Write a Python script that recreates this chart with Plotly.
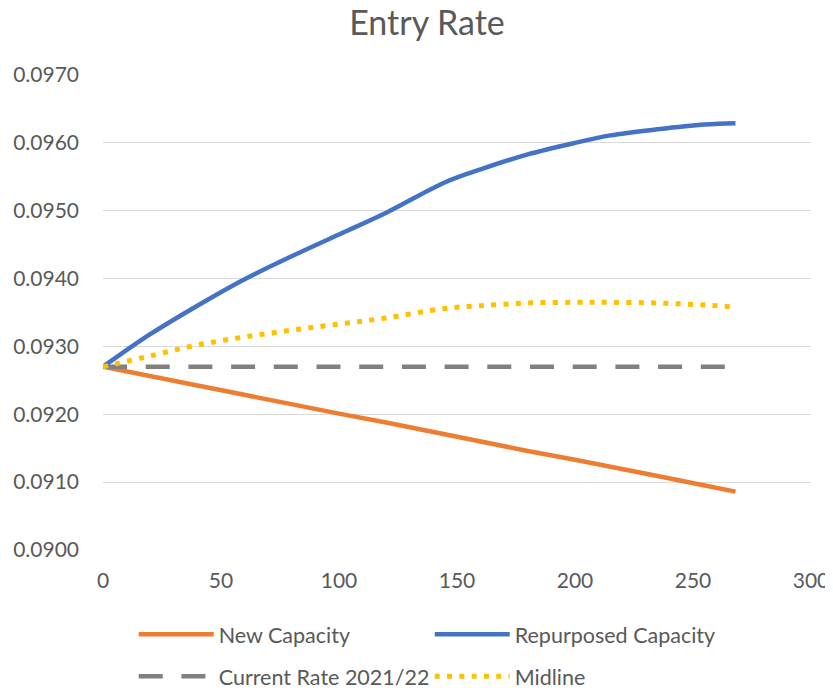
import plotly.graph_objects as go

# ---- data ----
x_vals = [0, 20, 40, 60, 80, 100, 120, 145, 160, 180, 200, 215, 235, 255, 268]
new_capacity = [0.09270, 0.09256, 0.09243, 0.09229, 0.09215, 0.09201, 0.09188, 0.09170,
                0.09160, 0.09146, 0.09133, 0.09122, 0.09109, 0.09095, 0.09086]
repurposed_capacity = [0.09270, 0.09318, 0.09360, 0.09399, 0.09433, 0.09465, 0.09497, 0.09542,
                       0.09561, 0.09583, 0.09600, 0.09611, 0.09620, 0.09627, 0.09629]
current_rate = [0.0927] * len(x_vals)
midline = [0.09270, 0.09286, 0.09302, 0.09314, 0.09324, 0.09333, 0.09342, 0.09356,
           0.09360, 0.09364, 0.09365, 0.09365, 0.09364, 0.09361, 0.09358]

title_text = "Entry Rate"
names = ["New Capacity", "Repurposed Capacity", "Current Rate 2021/22", "Midline"]
colors = ["#ED7D31", "#4472C4", "#808080", "#FFC000"]

FONT = "Lato"
TXT = "#595959"

fig = go.Figure()
fig.add_trace(go.Scatter(x=x_vals, y=new_capacity, name=names[0], mode="lines",
                         line=dict(color=colors[0], width=4.5), legend="legend"))
fig.add_trace(go.Scatter(x=x_vals, y=repurposed_capacity, name=names[1], mode="lines",
                         line=dict(color=colors[1], width=4.5, shape="spline", smoothing=1.0),
                         legend="legend"))
fig.add_trace(go.Scatter(x=x_vals, y=current_rate, name=names[2], mode="lines",
                         line=dict(color=colors[2], width=4.5, dash="24px,18.7px"),
                         legend="legend2"))
fig.add_trace(go.Scatter(x=x_vals, y=midline, name=names[3], mode="lines",
                         line=dict(color=colors[3], width=5, dash="5px,7.3px",
                                   shape="spline", smoothing=1.0),
                         legend="legend2"))

legend_common = dict(orientation="h", xref="paper", yref="paper", xanchor="left",
                     yanchor="middle", font=dict(family=FONT, size=21.5, color=TXT),
                     itemwidth=75, entrywidth=206, entrywidthmode="pixels",
                     bgcolor="rgba(0,0,0,0)", itemclick=False, itemdoubleclick=False)

# page body has an 8px margin, so the figure is sized to fit inside the window
fig.update_layout(
    width=825, height=685,
    margin=dict(l=95, r=22, t=66.5, b=142.5, autoexpand=False),
    paper_bgcolor="white", plot_bgcolor="white",
    title=dict(text=title_text, x=419 / 825, xref="container", xanchor="center",
               y=0.995, yref="container", yanchor="top",
               font=dict(family=FONT, size=34, color=TXT)),
    xaxis=dict(range=[0, 300], dtick=50, tick0=0, showgrid=False, zeroline=False,
               showline=False, ticks="", ticklabelstandoff=16, automargin=False,
               tickfont=dict(family=FONT, size=21, color=TXT)),
    yaxis=dict(range=[0.09, 0.097], dtick=0.001, tick0=0.09, tickformat=".4f",
               showgrid=True, gridcolor="#D9D9D9", gridwidth=1.3, zeroline=False,
               showline=False, ticks="", ticklabelstandoff=23, automargin=False,
               tickfont=dict(family=FONT, size=21, color=TXT)),
    legend=dict(x=0.0434, y=(542.5 - 627) / 476, **legend_common),
    legend2=dict(x=0.0434, y=(542.5 - 669) / 476, **legend_common),
)

fig.write_html("out.html")
